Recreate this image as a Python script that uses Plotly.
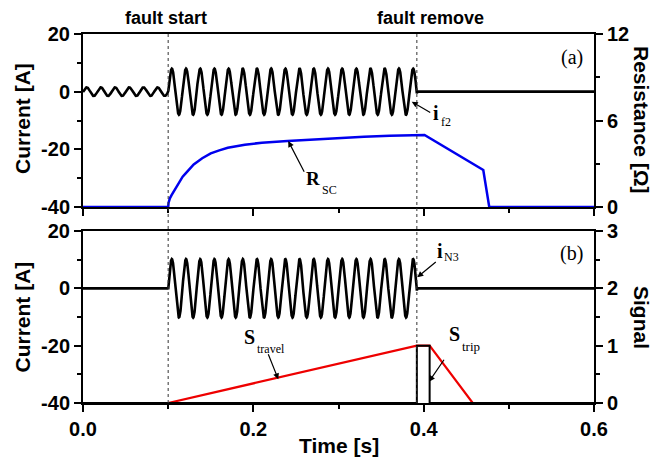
import numpy as np
import plotly.graph_objects as go

# ---------------- data ----------------
fault_times = [0.1, 0.392]            # fault start, fault remove [s]
fault_labels = ["fault start", "fault remove"]
grid_freq_hz = 60.0                   # oscillation frequency
wave_crest_time = 0.1043              # time of one crest of the oscillation [s]
if2_amp_prefault = 1.5                # [A]
if2_amp_fault = 8.0                   # [A]
iN3_amp_fault = 10.2                  # [A]

rsc_t = [0.0, 0.1, 0.1005, 0.101, 0.102, 0.104, 0.106, 0.108, 0.110, 0.114, 0.117,
         0.120, 0.125, 0.130, 0.140, 0.150, 0.160, 0.170, 0.190, 0.210, 0.240,
         0.290, 0.330, 0.360, 0.392, 0.401, 0.470, 0.477, 0.6]
rsc_ohm = [0.0, 0.0, 0.3, 0.42, 0.6, 0.82, 1.02, 1.27, 1.5, 1.87, 2.1,
           2.3, 2.65, 2.95, 3.38, 3.72, 3.93, 4.11, 4.32, 4.46, 4.58,
           4.77, 4.88, 4.94, 4.98, 5.0, 2.57, 0.0, 0.0]

s_travel_t = [0.1, 0.392, 0.407, 0.4576]
s_travel_v = [0.0, 1.0, 1.0, 0.0]

s_trip_t = [0.0, 0.392, 0.392, 0.407, 0.407, 0.6]
s_trip_v = [0.0, 0.0, 1.0, 1.0, 0.0, 0.0]

x_ticks = [0.0, 0.2, 0.4, 0.6]
x_tick_labels = ["0.0", "0.2", "0.4", "0.6"]
x_minor = [0.1, 0.3, 0.5]
cur_ticks = [-40, -20, 0, 20]
cur_tick_labels = ["-40", "-20", "0", "20"]
cur_minor = [-30, -10, 10]
res_ticks = [0, 6, 12]
res_tick_labels = ["0", "6", "12"]
res_minor = [3, 9]
sig_ticks = [0, 1, 2, 3]
sig_tick_labels = ["0", "1", "2", "3"]
sig_minor = [0.5, 1.5, 2.5]

# waveforms (sampled oscillation with the amplitudes read above)
t = np.linspace(0.0, 0.6, 12001)
carrier = np.cos(2 * np.pi * grid_freq_hz * (t - wave_crest_time))
amp_f2 = np.where(t < fault_times[0], if2_amp_prefault,
                  np.where(t <= fault_times[1], if2_amp_fault, 0.0))
amp_n3 = np.where(t < fault_times[0], 0.0,
                  np.where(t <= fault_times[1], iN3_amp_fault, 0.0))
i_f2 = amp_f2 * carrier
i_N3 = amp_n3 * carrier

# ---------------- layout geometry ----------------
W, H = 654, 461
L, R, T, B = 83, 60, 34, 58
PW, PH = W - L - R, H - T - B
top_dom = [(H - B - 207) / PH, 1.0]
bot_dom = [0.0, (H - B - 231) / PH]


def P(px, py):
    return (px - L) / PW, (H - B - py) / PH


SANS = "Liberation Sans"
SERIF = "Liberation Serif"
tickfont = dict(family=SANS, size=20, color="black", weight="bold")

fig = go.Figure()
fig.add_trace(go.Scatter(x=t, y=i_f2, mode="lines", line=dict(color="black", width=2.6),
                         xaxis="x", yaxis="y", showlegend=False))
fig.add_trace(go.Scatter(x=rsc_t, y=rsc_ohm, mode="lines", line=dict(color="#0000ee", width=2.5),
                         xaxis="x", yaxis="y2", showlegend=False))
fig.add_trace(go.Scatter(x=t, y=i_N3, mode="lines", line=dict(color="black", width=2.6),
                         xaxis="x2", yaxis="y3", showlegend=False))
fig.add_trace(go.Scatter(x=s_travel_t, y=s_travel_v, mode="lines", line=dict(color="#ee0000", width=2.2),
                         xaxis="x2", yaxis="y4", showlegend=False))
fig.add_trace(go.Scatter(x=s_trip_t, y=s_trip_v, mode="lines", line=dict(color="black", width=2),
                         xaxis="x2", yaxis="y4", showlegend=False))


def axis(**kw):
    base = dict(showline=True, linecolor="black", linewidth=2, ticks="outside",
                ticklen=7, tickwidth=2, tickcolor="black", showgrid=False,
                zeroline=False, tickfont=tickfont, tickmode="array")
    base.update(kw)
    return base


def minor(vals):
    return dict(tickmode="array", tickvals=vals, ticks="outside", ticklen=4,
                tickwidth=1.5, tickcolor="black", showgrid=False)


fig.update_layout(
    width=W, height=H,
    margin=dict(l=L, r=R, t=T, b=B, pad=0),
    paper_bgcolor="white", plot_bgcolor="white",
    xaxis=axis(domain=[0, 1], range=[0, 0.6], anchor="y", tickvals=x_ticks,
               ticktext=x_tick_labels, showticklabels=False, mirror=True,
               minor=minor(x_minor)),
    xaxis2=axis(domain=[0, 1], range=[0, 0.6], anchor="y3", tickvals=x_ticks,
                ticktext=x_tick_labels, mirror=True, minor=minor(x_minor)),
    yaxis=axis(domain=top_dom, range=[-40, 20], anchor="x", tickvals=cur_ticks,
               ticktext=cur_tick_labels, minor=minor(cur_minor)),
    yaxis2=axis(range=[0, 12], anchor="x", overlaying="y", side="right",
                tickvals=res_ticks, ticktext=res_tick_labels, minor=minor(res_minor),
                layer="below traces"),
    yaxis3=axis(domain=bot_dom, range=[-40, 20], anchor="x2", tickvals=cur_ticks,
                ticktext=cur_tick_labels, minor=minor(cur_minor)),
    yaxis4=axis(range=[0, 3], anchor="x2", overlaying="y3", side="right",
                tickvals=sig_ticks, ticktext=sig_tick_labels, minor=minor(sig_minor)),
)

# dotted event lines through both panels
for ft in fault_times:
    fig.add_shape(type="line", xref="x", yref="paper", x0=ft, x1=ft, y0=0, y1=1,
                  line=dict(color="#333333", width=1, dash="dot"), layer="above")

ann = []


def txt(text, px, py, size, family=SANS, weight="bold", angle=0):
    x, y = P(px, py)
    ann.append(dict(text=text, x=x, y=y, xref="paper", yref="paper", showarrow=False,
                    xanchor="center", yanchor="middle", textangle=angle,
                    font=dict(family=family, size=size, color="black", weight=weight)))


# fault labels
txt(fault_labels[0], 166, 18, 18)
txt(fault_labels[1], 430, 18, 18)

# axis titles
txt("Current [A]", 22, 119, 21, angle=-90)
txt("Current [A]", 22, 317.5, 21, angle=-90)
txt("Resistance [Ω]", 642, 120, 21, angle=90)
txt("Signal", 642, 317, 21, angle=90)
txt("Time [s]", 339, 445, 21)

# panel letters
txt("(a)", 571.5, 57, 20, family=SERIF, weight="normal")
txt("(b)", 571.5, 253, 20, family=SERIF, weight="normal")

# curve labels (main letter + subscript)
txt("i", 436, 113, 20, family=SERIF)
txt("f2", 445.5, 122, 12, family=SERIF, weight="normal")
txt("R", 312.5, 178, 19, family=SERIF)
txt("SC", 329.5, 189.5, 12, family=SERIF, weight="normal")
txt("S", 249, 336.5, 20, family=SERIF)
txt("travel", 271, 348.5, 12, family=SERIF, weight="normal")
txt("S", 454.5, 334, 20, family=SERIF)
txt("trip", 470.5, 346.5, 13, family=SERIF, weight="normal")
txt("i", 440, 251, 20, family=SERIF)
txt("N3", 451.5, 256.5, 12, family=SERIF, weight="normal")


def arrow(x, y, xref, yref, ax, ay):
    ann.append(dict(text="", x=x, y=y, xref=xref, yref=yref, ax=ax, ay=ay,
                    showarrow=True, arrowhead=2, arrowsize=1, arrowwidth=1.2,
                    arrowcolor="black", standoff=0, startstandoff=0))


arrow(0.386, -3.5, "x", "y", 20, 11.6)        # i_f2
arrow(0.241, 4.58, "x", "y2", 16.7, 32.3)     # R_SC
arrow(0.2293, 0.413, "x2", "y4", -10.6, -26.6)  # S_travel
arrow(0.4063, 0.372, "x2", "y4", 16, -23.4)   # S_trip
arrow(0.3925, 3.84, "x2", "y3", 20, -16.6)    # i_N3

fig.update_layout(annotations=ann)
fig.write_html("out.html", config={"displayModeBar": False},
               post_script="document.body.style.margin='0';document.body.style.overflow='hidden';")
